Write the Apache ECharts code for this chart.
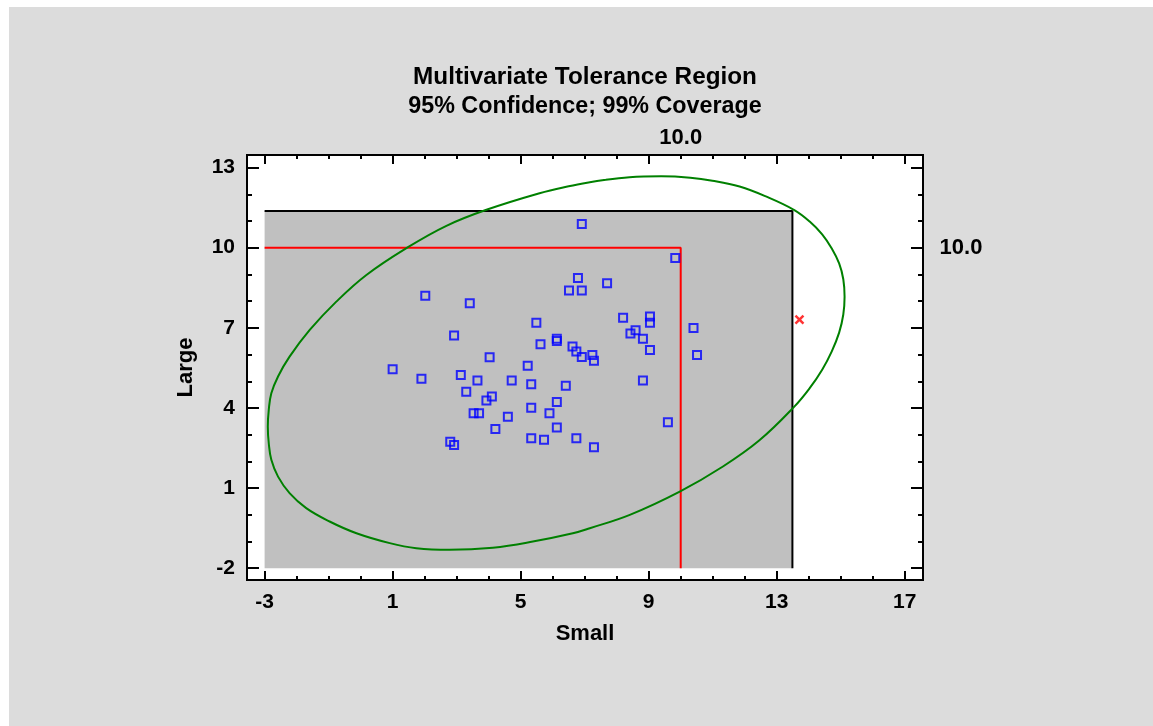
<!DOCTYPE html>
<html>
<head>
<meta charset="utf-8">
<title>Multivariate Tolerance Region</title>
<script src="https://cdn.jsdelivr.net/npm/echarts@6/dist/echarts.min.js"></script>
<style>
  html, body { margin: 0; padding: 0; background: #ffffff; }
  #chart { position: absolute; left: 9px; top: 7px; width: 1144px; height: 719px; background: #dcdcdc; }
</style>
</head>
<body>
<div id="chart"></div>
<script>
// --- data ---
// observations (Small, Large)
const smallVals = [6.91, 9.83, 6.79, 7.70, 6.51, 6.91, 2.02, 3.41, 8.20, 9.04,
                   9.04, 5.49, 10.40, 8.59, 8.43, 2.92, 8.82, 6.13, 6.13, 5.62,
                   6.62, 9.04, 6.74, 10.51, 7.24, 6.91, 4.03, 7.29, 5.22, 1.00,
                   3.13, 1.90, 3.65, 4.72, 8.82, 5.33, 6.41, 3.30, 4.10, 3.93,
                   6.13, 5.33, 3.53, 3.70, 5.90, 4.60, 9.60, 6.13, 4.21, 5.33,
                   6.74, 5.73, 2.80, 2.92, 7.29];
const largeVals = [10.89, 9.61, 8.87, 8.67, 8.40, 8.40, 8.20, 7.92, 7.38, 7.42,
                   7.19, 7.19, 6.99, 6.91, 6.79, 6.71, 6.59, 6.59, 6.51, 6.39,
                   6.30, 6.17, 6.11, 5.98, 5.98, 5.91, 5.90, 5.77, 5.58, 5.45,
                   5.23, 5.09, 5.03, 5.03, 5.03, 4.89, 4.83, 4.61, 4.43, 4.28,
                   4.22, 4.01, 3.80, 3.80, 3.80, 3.67, 3.47, 3.27, 3.21, 2.87,
                   2.87, 2.81, 2.74, 2.61, 2.53];

// tolerance ellipse, traced clockwise around the outline
const ellipseX = [7.66, 8.40, 9.39, 10.30, 10.99, 11.84, 12.68, 13.55, 14.03, 14.42,
                  14.72, 14.95, 15.08, 15.12, 15.08, 14.95, 14.72, 14.42, 14.03, 13.55,
                  12.45, 11.32, 9.97, 8.41, 7.16, 6.63, 5.38, 4.13, 2.78, 1.74,
                  0.91, -0.13, -0.97, -1.70, -2.22, -2.58, -2.79, -2.87, -2.90, -2.87,
                  -2.79, -2.58, -2.22, -1.59, -0.76, 0.18, 1.48, 2.68, 3.93, 5.59,
                  6.50, 7.16, 7.66];
const ellipseY = [12.54, 12.64, 12.67, 12.62, 12.51, 12.29, 11.91, 11.41, 10.98, 10.50,
                  9.97, 9.41, 8.82, 8.16, 7.50, 6.82, 6.12, 5.43, 4.74, 4.05,
                  2.78, 1.81, 0.87, 0.00, -0.50, -0.69, -1.00, -1.23, -1.31, -1.25,
                  -1.06, -0.69, -0.25, 0.25, 0.81, 1.43, 2.06, 2.68, 3.30, 3.93,
                  4.55, 5.18, 5.92, 6.92, 7.98, 8.98, 10.02, 10.82, 11.42, 12.04,
                  12.30, 12.45, 12.54];

// red limit lines (10.0 / 10.0)
const limitX = [-3, 10, 10];
const limitY = [10, 10, -2];
const limitText = '10.0';

// grey tolerance box corners
const boxX = [-3, 13.49];
const boxY = [-2, 11.37];

// red cross
const crossPoint = [13.71, 7.31];

// tick values
const xTicks = [-3, 1, 5, 9, 13, 17];
const yTicks = [-2, 1, 4, 7, 10, 13];
const xMinorTicks = [-3, -2, -1, 0, 1, 2, 3, 4, 5, 6, 7, 8, 9, 10, 11, 12, 13, 14, 15, 16, 17];
const yMinorTicks = [-2, -1, 0, 1, 2, 3, 4, 5, 6, 7, 8, 9, 10, 11, 12, 13];

document.addEventListener('DOMContentLoaded', () => {
    const chart = echarts.init(document.getElementById('chart'));

    const xMin = -3.55, xMax = 17.57;
    const yMin = -2.44, yMax = 13.47;
    const font = 'Liberation Sans, Arial, sans-serif';

    // one axis per tick set, all sitting on the same frame
    function axisOf(pos, lo, hi, ticks, len, withLabels) {
        return {
            type: 'value', position: pos, min: lo, max: hi,
            axisLine: { show: false, onZero: false },
            splitLine: { show: false },
            axisTick: { show: true, inside: true, length: len, customValues: ticks,
                        lineStyle: { color: '#000', width: 2 } },
            axisLabel: { show: withLabels, customValues: ticks, margin: 12,
                         color: '#000', fontFamily: font, fontSize: 21, fontWeight: 'bold' }
        };
    }

    const xMain = axisOf('bottom', xMin, xMax, xTicks, 9, true);
    xMain.name = 'Small';
    xMain.nameLocation = 'middle';
    xMain.nameGap = 43;
    xMain.nameTextStyle = { color: '#000', fontFamily: font, fontSize: 22, fontWeight: 'bold' };

    const yMain = axisOf('left', yMin, yMax, yTicks, 12, true);
    yMain.name = 'Large';
    yMain.nameLocation = 'middle';
    yMain.nameGap = 50;
    yMain.nameTextStyle = { color: '#000', fontFamily: font, fontSize: 22, fontWeight: 'bold' };

    const option = {
        animation: false,
        backgroundColor: '#dcdcdc',
        title: {
            text: '{a|Multivariate Tolerance Region}\n{b|95% Confidence; 99% Coverage}',
            left: 576, top: 55, textAlign: 'center', padding: 0,
            textStyle: {
                rich: {
                    a: { color: '#000', fontFamily: font, fontSize: 24.3, fontWeight: 'bold', lineHeight: 30 },
                    b: { color: '#000', fontFamily: font, fontSize: 23.3, fontWeight: 'bold', lineHeight: 30 }
                }
            }
        },
        grid: {
            left: 238, right: 230, top: 148, bottom: 146,
            show: true, backgroundColor: '#ffffff', borderColor: '#000', borderWidth: 2
        },
        xAxis: [
            xMain,
            axisOf('bottom', xMin, xMax, xMinorTicks, 4, false),
            axisOf('top', xMin, xMax, xTicks, 9, false),
            axisOf('top', xMin, xMax, xMinorTicks, 4, false)
        ],
        yAxis: [
            yMain,
            axisOf('left', yMin, yMax, yMinorTicks, 5, false),
            axisOf('right', yMin, yMax, yTicks, 12, false),
            axisOf('right', yMin, yMax, yMinorTicks, 5, false)
        ],
        series: [
            {
                // grey box: fill + black top/right edges
                name: 'box',
                type: 'line',
                z: 1,
                symbol: 'none',
                lineStyle: { color: '#000', width: 2 },
                data: [[boxX[0], boxY[1]], [boxX[1], boxY[1]], [boxX[1], boxY[0]]],
                markArea: {
                    silent: true,
                    itemStyle: { color: '#c0c0c0' },
                    data: [[{ coord: [boxX[0], boxY[0]] }, { coord: [boxX[1], boxY[1]] }]]
                }
            },
            {
                name: 'limits',
                type: 'line',
                z: 3,
                symbol: 'none',
                lineStyle: { color: '#ff0000', width: 2 },
                data: limitX.map((x, i) => [x, limitY[i]]),
                markPoint: {
                    symbol: 'circle',
                    symbolSize: 0,
                    label: {
                        show: true, formatter: limitText, color: '#000',
                        fontFamily: font, fontSize: 22, fontWeight: 'bold'
                    },
                    data: [
                        { coord: [limitX[1], yMax], label: { offset: [0, -17] } },
                        { coord: [xMax, limitY[0]], label: { offset: [38, 0] } }
                    ]
                }
            },
            {
                name: 'ellipse',
                type: 'line',
                z: 4,
                symbol: 'none',
                smooth: 0.4,
                lineStyle: { color: '#008000', width: 2 },
                data: ellipseX.map((x, i) => [x, ellipseY[i]])
            },
            {
                name: 'points',
                type: 'scatter',
                z: 5,
                symbol: 'rect',
                symbolSize: 8,
                itemStyle: { color: 'rgba(0,0,0,0)', borderColor: '#0000ff', borderWidth: 2 },
                data: smallVals.map((x, i) => [x, largeVals[i]])
            },
            {
                name: 'cross',
                type: 'scatter',
                z: 5,
                symbol: 'path://M0,0L8,8M8,0L0,8',
                symbolSize: 8,
                itemStyle: { color: 'rgba(0,0,0,0)', borderColor: '#ff0000', borderWidth: 2.5 },
                data: [crossPoint]
            }
        ]
    };

    chart.setOption(option);
    window.addEventListener('resize', () => chart.resize());
});
</script>
</body>
</html>
